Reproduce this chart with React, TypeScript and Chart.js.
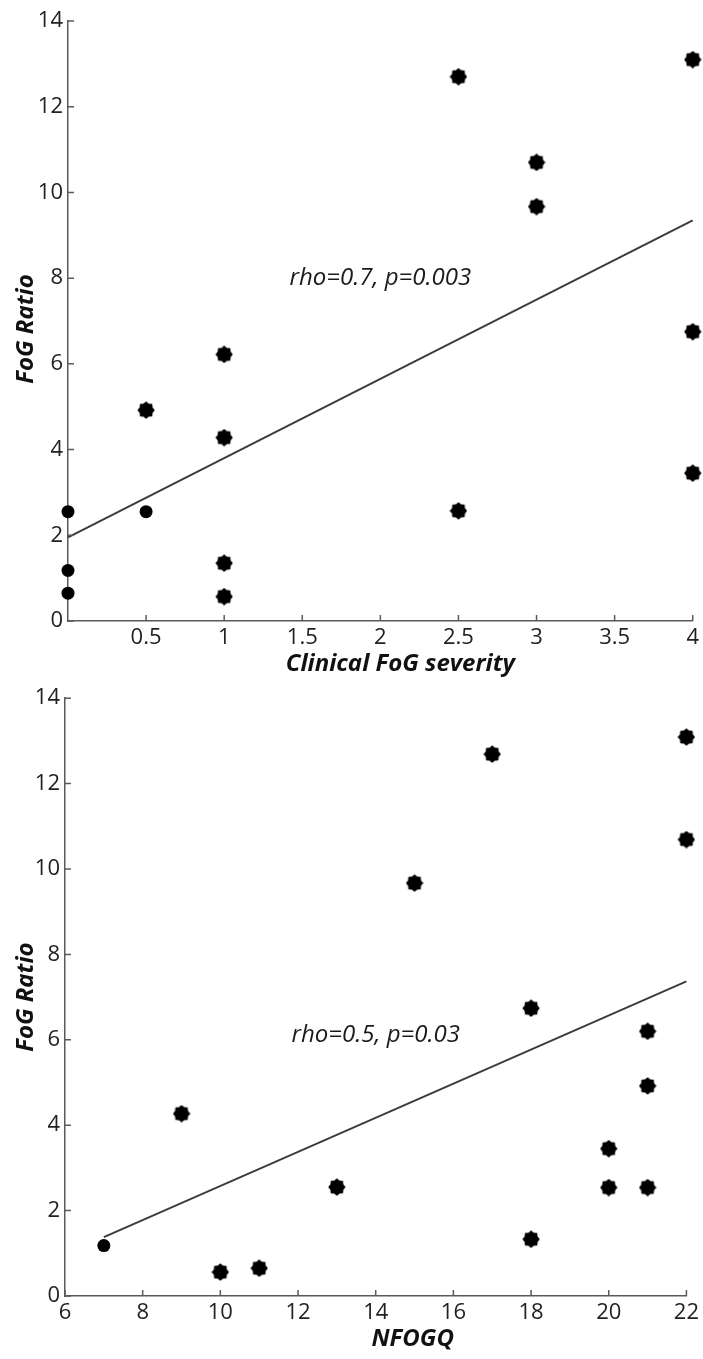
import React, { useEffect, useRef } from "react";
import { Chart, registerables } from "chart.js";

Chart.register(...registerables);

// ---------- Top panel: Clinical FoG severity vs FoG Ratio ----------
const severityCircleX = [0, 0, 0, 0.5];
const severityCircleY = [2.55, 1.18, 0.65, 2.55];
const severityStarX = [0.5, 1, 1, 1, 1, 2.5, 2.5, 3, 3, 4, 4, 4];
const severityStarY = [4.92, 6.22, 4.28, 1.35, 0.57, 12.7, 2.57, 10.7, 9.67, 13.1, 6.75, 3.45];
const severityFitX = [0, 4];
const severityFitY = [1.95, 9.35];
const severityXTicks = [0.5, 1, 1.5, 2, 2.5, 3, 3.5, 4];

// ---------- Bottom panel: NFOGQ vs FoG Ratio ----------
const nfogqCircleX = [7];
const nfogqCircleY = [1.18];
const nfogqStarX = [9, 10, 11, 13, 15, 17, 18, 18, 20, 20, 21, 21, 21, 22, 22];
const nfogqStarY = [4.27, 0.56, 0.65, 2.55, 9.67, 12.69, 6.74, 1.33, 3.45, 2.54, 6.2, 4.92, 2.54, 13.09, 10.69];
const nfogqFitX = [7, 22];
const nfogqFitY = [1.38, 7.37];
const nfogqXTicks = [6, 8, 10, 12, 14, 16, 18, 20, 22];

// ---------- Shared ----------
const ratioTicks = [0, 2, 4, 6, 8, 10, 12, 14];

const AXIS = "#5a5a5a";
const TEXT = "#222";
const FONT = "'Open Sans', 'Noto Sans', sans-serif";

function makeStar(): HTMLCanvasElement {
  const c = document.createElement("canvas");
  c.width = 18;
  c.height = 18;
  const ctx = c.getContext("2d")!;
  ctx.fillStyle = "#000";
  ctx.beginPath();
  const n = 8;
  const ro = 8.7;
  const ri = 7.0;
  for (let i = 0; i < 2 * n; i++) {
    const r = i % 2 === 0 ? ro : ri;
    const a = -Math.PI / 2 + (i * Math.PI) / n;
    const px = 9 + r * Math.cos(a);
    const py = 9 + r * Math.sin(a);
    if (i === 0) ctx.moveTo(px, py);
    else ctx.lineTo(px, py);
  }
  ctx.closePath();
  ctx.fill();
  return c;
}

type PanelProps = {
  width: number;
  height: number;
  circleX: number[];
  circleY: number[];
  starX: number[];
  starY: number[];
  fitX: number[];
  fitY: number[];
  xMin: number;
  xMax: number;
  xTicks: number[];
  xTitle: string;
  yTitle: string;
  note: string;
  noteAt: [number, number];
  padTop: number;
  padRight: number;
  yAxisWidth: number;
  xAxisHeight: number;
  xTitleDx: number;
  xTitleDy: number;
  yTitleX: number;
  yTitleDy: number;
};

function Panel(p: PanelProps) {
  const ref = useRef<HTMLCanvasElement>(null);

  useEffect(() => {
    if (!ref.current) return;
    const star = makeStar();

    const decorPlugin = {
      id: "decor",
      afterDraw(chart: any) {
        const ctx = chart.ctx as CanvasRenderingContext2D;
        const xs = chart.scales.x;
        const ys = chart.scales.y;
        const ca = chart.chartArea;
        ctx.save();
        // inward tick marks
        ctx.strokeStyle = AXIS;
        ctx.lineWidth = 1.5;
        ctx.beginPath();
        xs.ticks.forEach((t: any) => {
          const px = xs.getPixelForValue(t.value);
          ctx.moveTo(px, ca.bottom);
          ctx.lineTo(px, ca.bottom - 6);
        });
        ys.ticks.forEach((t: any) => {
          const py = ys.getPixelForValue(t.value);
          ctx.moveTo(ca.left, py);
          ctx.lineTo(ca.left + 6, py);
        });
        ctx.stroke();

        // axis titles
        ctx.fillStyle = "#111";
        ctx.font = `italic bold 24px ${FONT}`;
        ctx.textAlign = "center";
        ctx.textBaseline = "middle";
        ctx.fillText(p.xTitle, (ca.left + ca.right) / 2 + p.xTitleDx, ca.bottom + p.xTitleDy);
        ctx.save();
        ctx.translate(p.yTitleX, (ca.top + ca.bottom) / 2 + p.yTitleDy);
        ctx.rotate(-Math.PI / 2);
        ctx.fillText(p.yTitle, 0, 0);
        ctx.restore();

        // statistics note
        ctx.fillStyle = "#1a1a1a";
        ctx.font = `italic 24px ${FONT}`;
        ctx.fillText(p.note, xs.getPixelForValue(p.noteAt[0]), ys.getPixelForValue(p.noteAt[1]));
        ctx.restore();
      },
    };

    const chart = new Chart(ref.current, {
      type: "scatter",
      data: {
        datasets: [
          {
            type: "line",
            data: p.fitX.map((x, i) => ({ x, y: p.fitY[i] })),
            borderColor: "#3c3c3c",
            borderWidth: 2,
            pointRadius: 0,
            fill: false,
            clip: false,
          } as any,
          {
            data: p.circleX.map((x, i) => ({ x, y: p.circleY[i] })),
            pointStyle: "circle",
            pointRadius: 6.5,
            backgroundColor: "#000",
            borderWidth: 0,
            clip: false,
          } as any,
          {
            data: p.starX.map((x, i) => ({ x, y: p.starY[i] })),
            pointStyle: star,
            backgroundColor: "#000",
            borderWidth: 0,
            clip: false,
          } as any,
        ],
      },
      options: {
        animation: false,
        responsive: false,
        devicePixelRatio: 1,
        layout: { padding: { top: p.padTop, right: p.padRight, left: 0, bottom: 0 } },
        plugins: { legend: { display: false }, tooltip: { enabled: false } },
        events: [],
        scales: {
          x: {
            type: "linear",
            min: p.xMin,
            max: p.xMax,
            afterBuildTicks: (s: any) => {
              s.ticks = p.xTicks.map((v) => ({ value: v }));
            },
            afterFit: (s: any) => {
              s.height = p.xAxisHeight;
            },
            grid: { display: false, drawTicks: false },
            border: { display: true, color: AXIS, width: 1.5 },
            ticks: {
              autoSkip: false,
              maxRotation: 0,
              padding: 4,
              color: TEXT,
              font: { family: FONT, size: 22 },
              callback: (v: any) => String(v),
            },
          },
          y: {
            type: "linear",
            min: 0,
            max: 14,
            afterBuildTicks: (s: any) => {
              s.ticks = ratioTicks.map((v) => ({ value: v }));
            },
            afterFit: (s: any) => {
              s.width = p.yAxisWidth;
            },
            grid: { display: false, drawTicks: false },
            border: { display: true, color: AXIS, width: 1.5 },
            ticks: {
              autoSkip: false,
              padding: 5,
              color: TEXT,
              font: { family: FONT, size: 22 },
              callback: (v: any) => String(v),
            },
          },
        },
      },
      plugins: [decorPlugin],
    } as any);

    return () => chart.destroy();
  }, []);

  return (
    <div style={{ width: p.width, height: p.height }}>
      <canvas ref={ref} width={p.width} height={p.height} style={{ display: "block" }} />
    </div>
  );
}

export default function App() {
  return (
    <div style={{ position: "absolute", left: 0, top: 0, width: 703, height: 1359, background: "#fff" }}>
      <Panel
        width={703}
        height={680}
        circleX={severityCircleX}
        circleY={severityCircleY}
        starX={severityStarX}
        starY={severityStarY}
        fitX={severityFitX}
        fitY={severityFitY}
        xMin={0}
        xMax={4}
        xTicks={severityXTicks}
        xTitle="Clinical FoG severity"
        yTitle="FoG Ratio"
        note="rho=0.7, p=0.003"
        noteAt={[2.0, 8.0]}
        padTop={21}
        padRight={10}
        yAxisWidth={68}
        xAxisHeight={59}
        xTitleDx={20}
        xTitleDy={43}
        yTitleX={26}
        yTitleDy={8}
      />
      <Panel
        width={703}
        height={679}
        circleX={nfogqCircleX}
        circleY={nfogqCircleY}
        starX={nfogqStarX}
        starY={nfogqStarY}
        fitX={nfogqFitX}
        fitY={nfogqFitY}
        xMin={6}
        xMax={22}
        xTicks={nfogqXTicks}
        xTitle="NFOGQ"
        yTitle="FoG Ratio"
        note="rho=0.5, p=0.03"
        noteAt={[14.0, 6.1]}
        padTop={17}
        padRight={13}
        yAxisWidth={65}
        xAxisHeight={63}
        xTitleDx={37}
        xTitleDy={43}
        yTitleX={26}
        yTitleDy={0}
      />
    </div>
  );
}
